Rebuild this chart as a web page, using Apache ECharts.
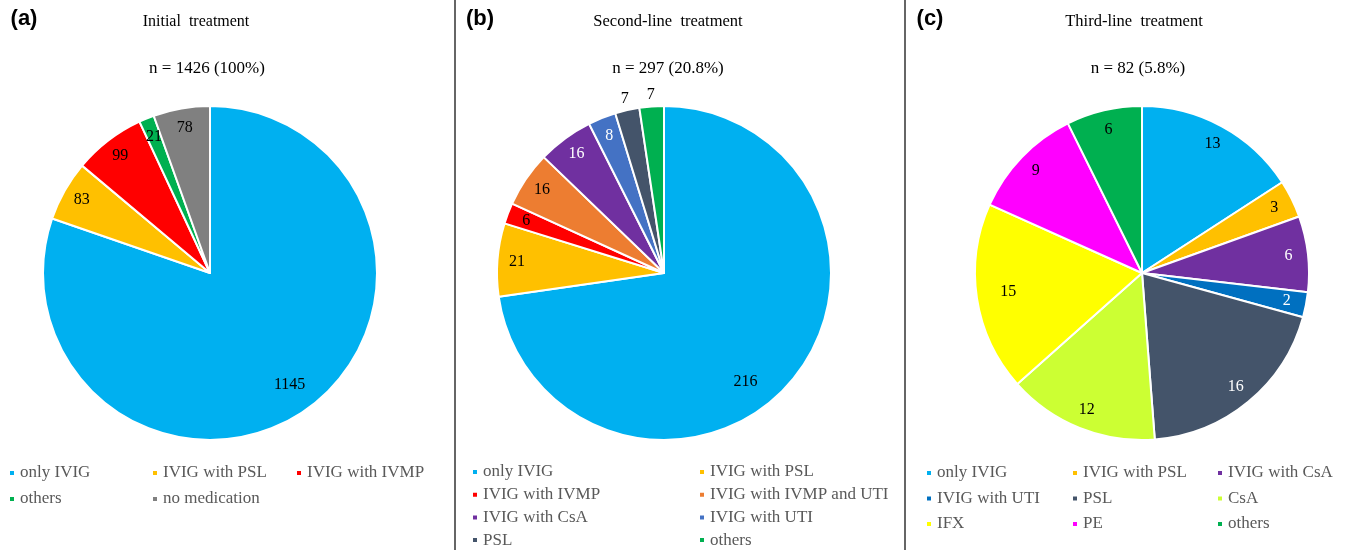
<!DOCTYPE html>
<html>
<head>
<meta charset="utf-8">
<script src="https://cdn.jsdelivr.net/npm/echarts@6/dist/echarts.min.js"></script>
<style>
  html, body { margin: 0; padding: 0; background: #fff; }
  #main { width: 1349px; height: 550px; }
</style>
</head>
<body>
<div id="main"></div>
<script>
// (a) initial treatment
var namesA = ['only IVIG', 'IVIG with PSL', 'IVIG with IVMP', 'others', 'no medication'];
var valuesA = [1145, 83, 99, 21, 78];
// (b) second-line treatment
var namesB = ['only IVIG', 'IVIG with PSL', 'IVIG with IVMP', 'IVIG with IVMP and UTI',
              'IVIG with CsA', 'IVIG with UTI', 'PSL', 'others'];
var valuesB = [216, 21, 6, 16, 16, 8, 7, 7];
// (c) third-line treatment
var namesC = ['only IVIG', 'IVIG with PSL', 'IVIG with CsA', 'IVIG with UTI', 'PSL',
              'CsA', 'IFX', 'PE', 'others'];
var valuesC = [13, 3, 6, 2, 16, 12, 15, 9, 6];

var colorsA = ['#00B0F0', '#FFC000', '#FF0000', '#00B050', '#808080'];
var colorsB = ['#00B0F0', '#FFC000', '#FF0000', '#ED7D31', '#7030A0', '#4472C4', '#44546A', '#00B050'];
var colorsC = ['#00B0F0', '#FFC000', '#7030A0', '#0070C0', '#44546A', '#CCFF33', '#FFFF00', '#FF00FF', '#00B050'];

var serif = '"Liberation Serif", "Times New Roman", serif';
var R = 167;
var CY = 273;

function darkLabel(c) {
  return ['#7030A0', '#4472C4', '#0070C0', '#44546A'].indexOf(c) >= 0 ? '#fff' : '#000';
}

// outside: indices labelled above the rim, nudge: {index: [dx, dy]} label tweaks
function pieSeries(names, values, colors, cx, outside, nudge) {
  outside = outside || [];
  nudge = nudge || {};
  var base = {
    type: 'pie',
    center: [cx, CY],
    radius: [0, R],
    startAngle: 90,
    silent: true,
    label: { show: false },
    labelLine: { show: false },
    itemStyle: { borderColor: '#fff', borderWidth: 2 },
    data: names.map(function (n, i) {
      return { name: n, value: values[i], itemStyle: { color: colors[i] } };
    })
  };
  // transparent rings only used to place the value labels
  function ring(r0, r1, show) {
    return {
      type: 'pie',
      center: [cx, CY],
      radius: [r0, r1],
      startAngle: 90,
      silent: true,
      avoidLabelOverlap: false,
      itemStyle: { color: 'rgba(0,0,0,0)' },
      labelLine: { show: false },
      label: {
        show: true, position: 'inside', formatter: '{c}',
        fontFamily: serif, fontSize: 16
      },
      data: names.map(function (n, i) {
        var lab = { show: show(i), color: r0 >= R ? '#000' : darkLabel(colors[i]) };
        if (nudge[i]) lab.offset = nudge[i];
        return { name: n, value: values[i], label: lab };
      })
    };
  }
  var out = [base, ring(122, R, function (i) { return outside.indexOf(i) < 0; })];
  if (outside.length) {
    out.push(ring(R, R + 17, function (i) { return outside.indexOf(i) >= 0; }));
  }
  return out;
}

function legendCol(names, colors, pick, left, top, gap) {
  return {
    orient: 'vertical',
    left: left, top: top, height: 110,
    padding: 0,
    itemGap: gap,
    itemWidth: 6, itemHeight: 6,
    icon: 'rect',
    selectedMode: false,
    textStyle: { fontFamily: serif, fontSize: 17, color: '#595959', lineHeight: 18 },
    data: pick.map(function (i) {
      return { name: names[i], itemStyle: { color: colors[i] } };
    })
  };
}

function txt(x, y, s, font, size, weight) {
  return {
    type: 'text', x: x, y: y,
    style: {
      text: s, fontFamily: font, fontSize: size, fontWeight: weight || 'normal',
      fill: '#000', align: 'center', verticalAlign: 'middle'
    }
  };
}

var sans = '"Liberation Sans", Arial, sans-serif';
var myChart = echarts.init(document.getElementById('main'));

var option = {
  animation: false,
  backgroundColor: '#fff',
  legend: [
    legendCol(namesA, colorsA, [0, 3], 8, 464, 8),
    legendCol(namesA, colorsA, [1, 4], 151, 464, 8),
    legendCol(namesA, colorsA, [2], 295, 464, 8),
    legendCol(namesB, colorsB, [0, 2, 4, 6], 471, 463, 4.7),
    legendCol(namesB, colorsB, [1, 3, 5, 7], 698, 463, 4.7),
    legendCol(namesC, colorsC, [0, 3, 6], 925, 464, 7.5),
    legendCol(namesC, colorsC, [1, 4, 7], 1071, 464, 7.5),
    legendCol(namesC, colorsC, [2, 5, 8], 1216, 464, 7.5)
  ],
  graphic: [
    txt(24, 19, '(a)', sans, 22, 'bold'),
    txt(480, 19, '(b)', sans, 22, 'bold'),
    txt(930, 19, '(c)', sans, 22, 'bold'),
    txt(196, 22, 'Initial  treatment', serif, 16),
    txt(668, 22, 'Second-line  treatment', serif, 16.5),
    txt(1134, 22, 'Third-line  treatment', serif, 16.5),
    txt(207, 69, 'n = 1426 (100%)', serif, 17),
    txt(668, 69, 'n = 297 (20.8%)', serif, 17),
    txt(1138, 69, 'n = 82 (5.8%)', serif, 17),
    { type: 'line', shape: { x1: 455, y1: 0, x2: 455, y2: 550 }, style: { stroke: '#333', lineWidth: 1.5 } },
    { type: 'line', shape: { x1: 905, y1: 0, x2: 905, y2: 550 }, style: { stroke: '#333', lineWidth: 1.5 } }
  ],
  series: [].concat(
    pieSeries(namesA, valuesA, colorsA, 210, [], { 0: [-6, -8] }),
    pieSeries(namesB, valuesB, colorsB, 664, [6, 7], { 0: [-30, 12] }),
    pieSeries(namesC, valuesC, colorsC, 1142, [], { 6: [12, -4] })
  )
};

myChart.setOption(option);
</script>
</body>
</html>
